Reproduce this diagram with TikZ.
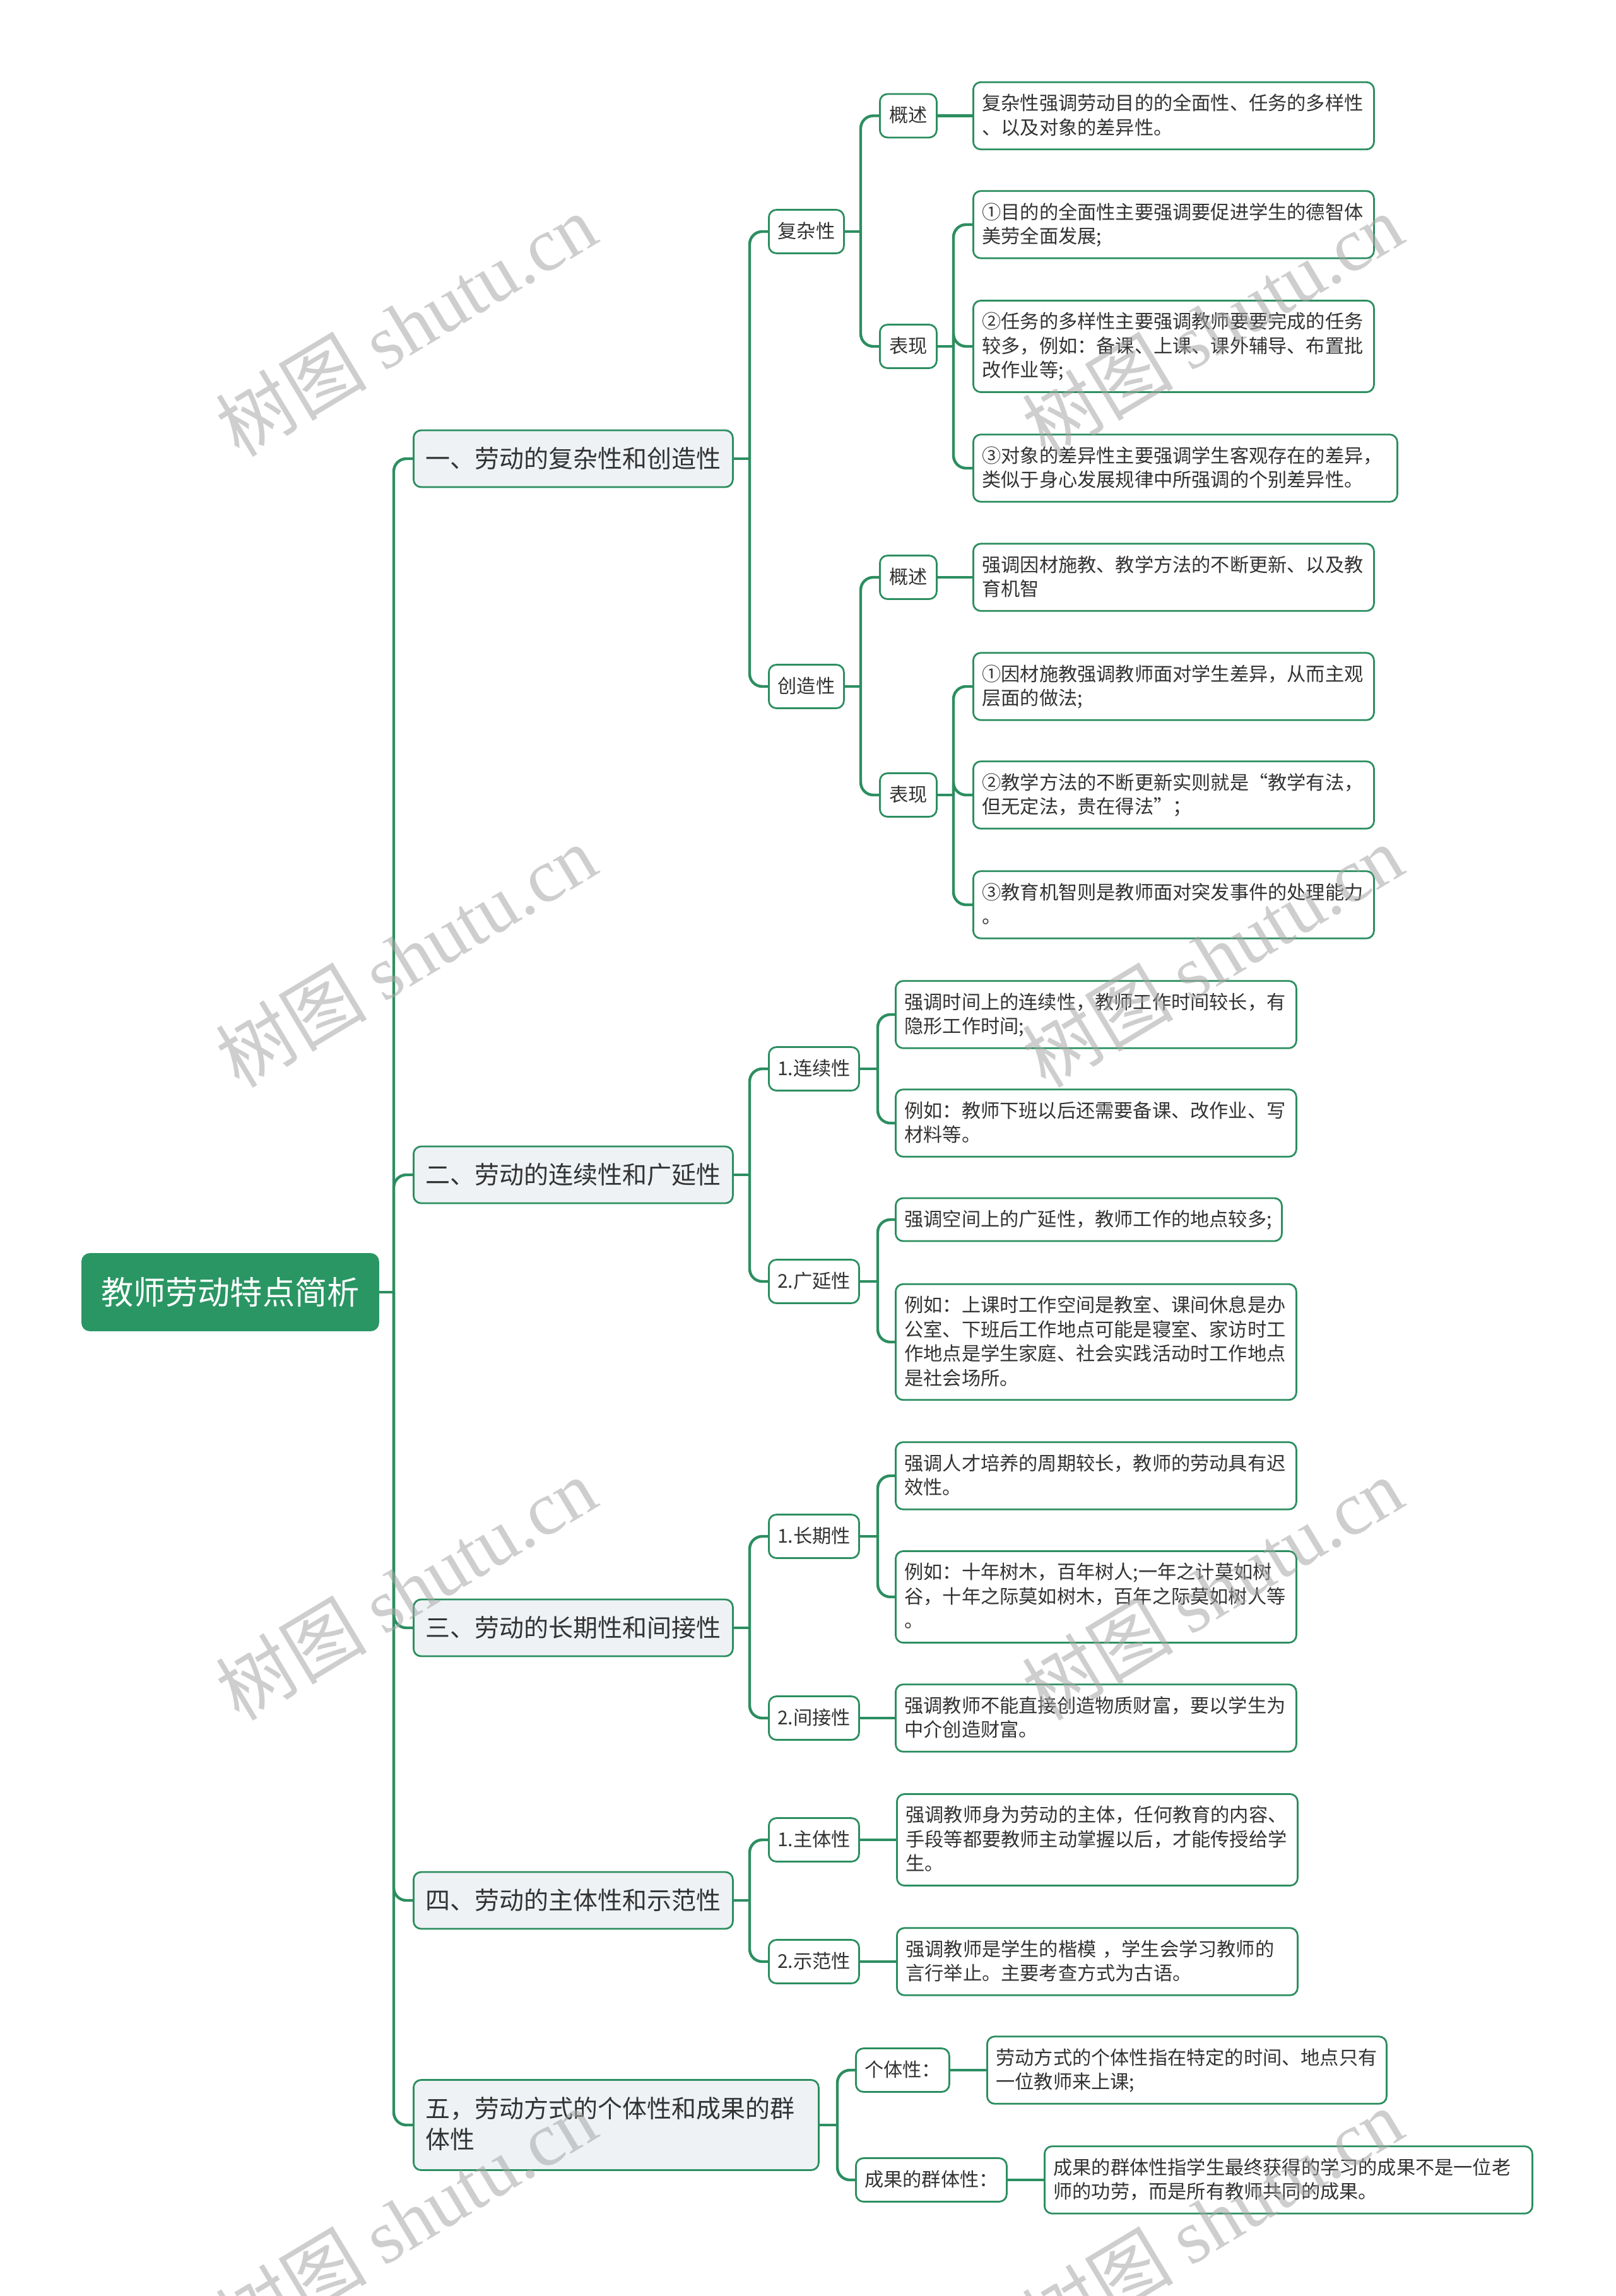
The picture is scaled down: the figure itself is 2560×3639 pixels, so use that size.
\documentclass[tikz,border=0pt]{standalone}
\usepackage{fontspec}
\setmainfont{Noto Sans CJK SC}
\newfontfamily\wmlatin{Liberation Serif}
\definecolor{brand}{RGB}{42,150,100}
\definecolor{lineg}{RGB}{44,142,96}
\definecolor{lvfill}{RGB}{238,242,245}
\definecolor{txt}{RGB}{51,51,51}
\newcommand\lfstrut{\rule[-4.4pt]{0pt}{19.25pt}}
\newcommand\tpstrut{\rule[-5.6pt]{0pt}{24.5pt}}
\tikzset{
  conn/.style={draw=lineg, line width=2.2pt, rounded corners=10pt},
  rootbox/.style={rounded corners=6pt, fill=brand, draw=brand, line width=1.4pt, text=white,
    font=\fontsize{25.6}{30}\selectfont, minimum width=234.5pt, minimum height=60.5pt, inner sep=0pt, anchor=west},
  topicbox/.style={rounded corners=6pt, fill=lvfill, draw=lineg, line width=1.4pt, text=txt,
    font=\fontsize{19.5}{24.5}\selectfont, minimum width=253pt, minimum height=45pt, inner sep=0pt, anchor=west},
  topicwide/.style={rounded corners=6pt, fill=lvfill, draw=lineg, line width=1.4pt, text=txt,
    font=\fontsize{19.5}{24.5}\selectfont, align=left, text width=302pt, inner xsep=9.5pt, inner ysep=11.25pt,
    anchor=west, execute at begin node=\tpstrut, execute at end node=\tpstrut},
  subbox/.style={rounded corners=6pt, fill=white, draw=lineg, line width=1.4pt, text=txt,
    font=\fontsize{15.1}{19.25}\selectfont, inner xsep=0pt, inner ysep=7.6pt, anchor=west,
    execute at begin node=\lfstrut},
  leafbox/.style={rounded corners=6pt, fill=white, draw=lineg, line width=1.4pt, text=txt,
    font=\fontsize{15.1}{19.25}\selectfont, align=left, inner xsep=7pt, inner ysep=7.4pt, anchor=west,
    execute at begin node=\lfstrut, execute at end node=\lfstrut},
  wm/.style={text=black!35, opacity=0.55, rotate=31, font=\fontsize{60}{60}\selectfont, inner sep=0pt},
}
\begin{document}
\begin{tikzpicture}[x=0.5pt,y=-0.5pt]
\useasboundingbox (0,0) rectangle (2560,3639);
\fill[white] (0,0) rectangle (2560,3639);

% root
\node[rootbox] (root) at (129,2048) {教师劳动特点简析};

% topics
\node[topicbox] (A) at (654,727) {一、劳动的复杂性和创造性};
\node[topicbox] (B) at (654,1862) {二、劳动的连续性和广延性};
\node[topicbox] (C) at (654,2580) {三、劳动的长期性和间接性};
\node[topicbox] (D) at (654,3012) {四、劳动的主体性和示范性};
\node[topicwide] (E) at (654,3368) {五，劳动方式的个体性和成果的群\\体性};

% section A
\node[subbox, minimum width=59.5pt] (A1) at (1217,367) {复杂性};
\node[subbox, minimum width=59.5pt] (A2) at (1217,1088) {创造性};
\node[subbox, minimum width=45pt] (A1a) at (1393,183.5) {概述};
\node[subbox, minimum width=45pt] (A1b) at (1393,549) {表现};
\node[subbox, minimum width=45pt] (A2a) at (1393,915) {概述};
\node[subbox, minimum width=45pt] (A2b) at (1393,1260) {表现};
\node[leafbox, text width=303.5pt] (A1al) at (1541,183.5) {复杂性强调劳动目的的全面性、任务的多样性\\、以及对象的差异性。};
\node[leafbox, text width=303.5pt] (A1b1) at (1541,356) {①目的的全面性主要强调要促进学生的德智体\\美劳全面发展;};
\node[leafbox, text width=303.5pt] (A1b2) at (1541,549) {②任务的多样性主要强调教师要要完成的任务\\较多，例如：备课、上课、课外辅导、布置批\\改作业等;};
\node[leafbox, text width=322pt] (A1b3) at (1541,742) {③对象的差异性主要强调学生客观存在的差异，\\类似于身心发展规律中所强调的个别差异性。};
\node[leafbox, text width=303.5pt] (A2al) at (1541,915) {强调因材施教、教学方法的不断更新、以及教\\育机智};
\node[leafbox, text width=303.5pt] (A2b1) at (1541,1088) {①因材施教强调教师面对学生差异，从而主观\\层面的做法;};
\node[leafbox, text width=303.5pt] (A2b2) at (1541,1260) {②教学方法的不断更新实则就是“教学有法，\\但无定法，贵在得法”；};
\node[leafbox, text width=303.5pt] (A2b3) at (1541,1434) {③教育机智则是教师面对突发事件的处理能力\\。};

% section B
\node[subbox, minimum width=71.5pt] (B1) at (1217,1694) {1.连续性};
\node[subbox, minimum width=71.5pt] (B2) at (1217,2031) {2.广延性};
\node[leafbox, text width=303.5pt] (B1a) at (1418,1608) {强调时间上的连续性，教师工作时间较长，有\\隐形工作时间;};
\node[leafbox, text width=303.5pt] (B1b) at (1418,1780) {例如：教师下班以后还需要备课、改作业、写\\材料等。};
\node[leafbox, text width=292pt] (B2a) at (1418,1933) {强调空间上的广延性，教师工作的地点较多;};
\node[leafbox, text width=303.5pt] (B2b) at (1418,2127) {例如：上课时工作空间是教室、课间休息是办\\公室、下班后工作地点可能是寝室、家访时工\\作地点是学生家庭、社会实践活动时工作地点\\是社会场所。};

% section C
\node[subbox, minimum width=71.5pt] (C1) at (1217,2435) {1.长期性};
\node[subbox, minimum width=71.5pt] (C2) at (1217,2723) {2.间接性};
\node[leafbox, text width=303.5pt] (C1a) at (1418,2339) {强调人才培养的周期较长，教师的劳动具有迟\\效性。};
\node[leafbox, text width=303.5pt] (C1b) at (1418,2531) {例如：十年树木，百年树人;一年之计莫如树\\谷，十年之际莫如树木，百年之际莫如树人等\\。};
\node[leafbox, text width=303.5pt] (C2a) at (1418,2723) {强调教师不能直接创造物质财富，要以学生为\\中介创造财富。};

% section D
\node[subbox, minimum width=71.5pt] (D1) at (1217,2916) {1.主体性};
\node[subbox, minimum width=71.5pt] (D2) at (1217,3109) {2.示范性};
\node[leafbox, text width=303.5pt] (D1a) at (1420,2916) {强调教师身为劳动的主体，任何教育的内容、\\手段等都要教师主动掌握以后，才能传授给学\\生。};
\node[leafbox, text width=303.5pt] (D2a) at (1420,3109) {强调教师是学生的楷模 ，学生会学习教师的\\言行举止。主要考查方式为古语。};

% section E
\node[subbox, minimum width=74pt] (E1) at (1355,3281) {个体性：};
\node[subbox, minimum width=119.5pt] (E2) at (1355,3455) {成果的群体性：};
\node[leafbox, text width=302.5pt] (E1a) at (1563,3281) {劳动方式的个体性指在特定的时间、地点只有\\一位教师来上课;};
\node[leafbox, text width=372.5pt] (E2a) at (1654,3455) {成果的群体性指学生最终获得的学习的成果不是一位老\\师的功劳，而是所有教师共同的成果。};

% bus coordinates
\coordinate (t0) at (624,2048);
\coordinate (ab) at (1188,727);
\coordinate (a1b) at (1364,367);
\coordinate (a1bb) at (1511,549);
\coordinate (a2b) at (1364,1088);
\coordinate (a2bb) at (1511,1260);
\coordinate (bb) at (1188,1862);
\coordinate (b1b) at (1391,1694);
\coordinate (b2b) at (1391,2031);
\coordinate (cb) at (1188,2580);
\coordinate (c1b) at (1391,2435);
\coordinate (db) at (1188,3012);
\coordinate (eb) at (1327,3368);

% connectors: trunk
\draw[conn] (root.east) -- (t0);
\foreach \n in {A,B,C,D,E} { \draw[conn] (t0) |- (\n.west); }
% section A
\draw[conn] (A.east) -- (ab);
\draw[conn] (ab) |- (A1.west);
\draw[conn] (ab) |- (A2.west);
\draw[conn] (A1.east) -- (a1b);
\draw[conn] (a1b) |- (A1a.west);
\draw[conn] (a1b) |- (A1b.west);
\draw[conn] (A1a.east) -- (A1al.west);
\draw[conn] (A1b.east) -- (a1bb);
\foreach \n in {A1b1,A1b2,A1b3} { \draw[conn] (a1bb) |- (\n.west); }
\draw[conn] (A2.east) -- (a2b);
\draw[conn] (a2b) |- (A2a.west);
\draw[conn] (a2b) |- (A2b.west);
\draw[conn] (A2a.east) -- (A2al.west);
\draw[conn] (A2b.east) -- (a2bb);
\foreach \n in {A2b1,A2b2,A2b3} { \draw[conn] (a2bb) |- (\n.west); }
% section B
\draw[conn] (B.east) -- (bb);
\draw[conn] (bb) |- (B1.west);
\draw[conn] (bb) |- (B2.west);
\draw[conn] (B1.east) -- (b1b);
\draw[conn] (b1b) |- (B1a.west);
\draw[conn] (b1b) |- (B1b.west);
\draw[conn] (B2.east) -- (b2b);
\draw[conn] (b2b) |- (B2a.west);
\draw[conn] (b2b) |- (B2b.west);
% section C
\draw[conn] (C.east) -- (cb);
\draw[conn] (cb) |- (C1.west);
\draw[conn] (cb) |- (C2.west);
\draw[conn] (C1.east) -- (c1b);
\draw[conn] (c1b) |- (C1a.west);
\draw[conn] (c1b) |- (C1b.west);
\draw[conn] (C2.east) -- (C2a.west);
% section D
\draw[conn] (D.east) -- (db);
\draw[conn] (db) |- (D1.west);
\draw[conn] (db) |- (D2.west);
\draw[conn] (D1.east) -- (D1a.west);
\draw[conn] (D2.east) -- (D2a.west);
% section E
\draw[conn] (E.east) -- (eb);
\draw[conn] (eb) |- (E1.west);
\draw[conn] (eb) |- (E2.west);
\draw[conn] (E1.east) -- (E1a.west);
\draw[conn] (E2.east) -- (E2a.west);

% watermarks
\node[wm] (w1) at (643,515) {树图 {\wmlatin shutu.cn}};
\node[wm] (w2) at (643,1515) {树图 {\wmlatin shutu.cn}};
\node[wm] (w3) at (643,2518) {树图 {\wmlatin shutu.cn}};
\node[wm] (w4) at (643,3518) {树图 {\wmlatin shutu.cn}};
\node[wm] (w5) at (1921,515) {树图 {\wmlatin shutu.cn}};
\node[wm] (w6) at (1921,1515) {树图 {\wmlatin shutu.cn}};
\node[wm] (w7) at (1921,2518) {树图 {\wmlatin shutu.cn}};
\node[wm] (w8) at (1921,3518) {树图 {\wmlatin shutu.cn}};
\end{tikzpicture}
\end{document}
